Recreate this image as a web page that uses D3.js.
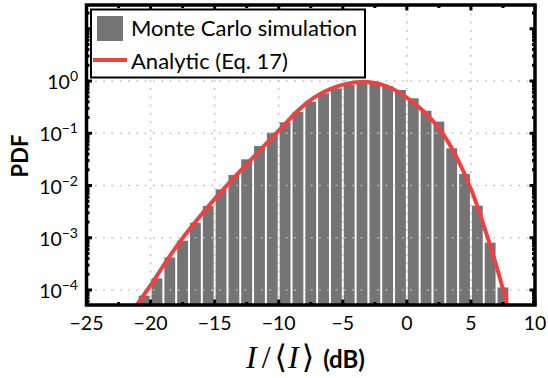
<!DOCTYPE html>
<html>
<head>
<meta charset="utf-8">
<script src="https://cdn.jsdelivr.net/npm/d3@7"></script>
<style>
	body { margin: 0; background: #fff; }
	text { font-family: Lato, 'Open Sans', sans-serif; }
</style>
</head>
<body>
<script>
// histogram bins (dB centres) and the Monte Carlo PDF values
const binCenters = [-20.5, -19.5, -18.5, -17.5, -16.5, -15.5, -14.5, -13.5, -12.5, -11.5, -10.5, -9.5, -8.5, -7.5, -6.5,
	-5.5, -4.5, -3.5, -2.5, -1.5, -0.5, 0.5, 1.5, 2.5, 3.5, 4.5, 5.5, 6.5, 7.5];
const mcPdf = [7.8e-5, 1.67e-4, 4.2e-4, 8.8e-4, 1.94e-3, 4.05e-3, 8.45e-3, 0.0159, 0.0317, 0.057, 0.1026, 0.162, 0.257, 0.402, 0.581,
	0.724, 0.838, 0.912, 0.904, 0.80, 0.676, 0.467, 0.27, 0.167, 0.0515, 0.0166, 0.00411, 8.05e-4, 1.12e-4];

// analytic curve (Eq. 17), sampled from the figure
const curveDb = [-21.15, -20.04, -18.74, -17.45, -16.14, -14.84, -13.54, -12.24, -10.94, -9.64, -8.5, -7.3, -6.0, -4.69,
	-3.13, -1.57, -0.01, 1.28, 2.59, 3.89, 5.19, 6.23, 7.27, 7.84];
const curvePdf = [4.9e-5, 1.17e-4, 3.7e-4, 1.05e-3, 2.6e-3, 6.2e-3, 0.0138, 0.030, 0.065, 0.138, 0.28, 0.49, 0.72, 0.91,
	1.01, 0.84, 0.50, 0.275, 0.126, 0.037, 0.0072, 1.17e-3, 1.74e-4, 4.9e-5];

const xTicks = [-25, -20, -15, -10, -5, 0, 5, 10];
const yTickExps = [-4, -3, -2, -1, 0];
const legendLabels = ['Monte Carlo simulation', 'Analytic (Eq. 17)'];

const [W, H] = [548, 378];
const barColor = '#747474';
const lineColor = '#ef4141';

const svg = d3.select('body').append('svg').attr('width', W).attr('height', H);

const x = d3.scaleLinear([-25, 10], [86.5, 535]);
const y = d3.scaleLog([Math.pow(10, -4.287), Math.pow(10, 1.455)], [305, 5]);
const [plotLeft, plotRight] = x.range();
const [plotBottom, plotTop] = y.range();

svg.append('defs').append('clipPath').attr('id', 'plot')
	.append('rect').attr('x', plotLeft).attr('y', plotTop).attr('width', plotRight - plotLeft).attr('height', plotBottom - plotTop);

// bars
svg.append('g')
	.selectAll('rect')
	.data(binCenters)
	.join('rect')
	.attr('x', c => x(c - 0.5) + 1)
	.attr('width', c => x(c + 0.5) - x(c - 0.5) - 2)
	.attr('y', (c, i) => y(mcPdf[i]))
	.attr('height', (c, i) => plotBottom - y(mcPdf[i]))
	.attr('fill', barColor);

// dotted grid, drawn over the bars
const grid = svg.append('g').attr('stroke', '#bdbdbd').attr('stroke-opacity', 0.85).attr('stroke-width', 1.6).attr('stroke-dasharray', '2,6.3');
grid.selectAll('.gx')
	.data(xTicks.slice(1, -1))
	.join('line')
	.attr('x1', d => x(d)).attr('x2', d => x(d))
	.attr('y1', plotTop).attr('y2', plotBottom);
grid.selectAll('.gy')
	.data(yTickExps)
	.join('line')
	.attr('y1', d => y(Math.pow(10, d))).attr('y2', d => y(Math.pow(10, d)))
	.attr('x1', plotLeft).attr('x2', plotRight);

// analytic line (basis spline smooths the hand-read samples)
const line = d3.line()
	.x(i => x(curveDb[i]))
	.y(i => y(curvePdf[i]))
	.curve(d3.curveBasis);
svg.append('path')
	.attr('clip-path', 'url(#plot)')
	.attr('fill', 'none')
	.attr('stroke', lineColor)
	.attr('stroke-width', 4)
	.attr('d', line(d3.range(curveDb.length)));

// ticks on all four sides, pointing inward
const ticks = svg.append('g').attr('stroke', '#000').attr('stroke-width', 3);
const xMinor = d3.range(-22.5, 10, 5);
const addXTicks = (vals, len) => {
	ticks.append('g').selectAll('line').data(vals).join('line')
		.attr('x1', d => x(d)).attr('x2', d => x(d)).attr('y1', plotBottom).attr('y2', plotBottom - len);
	ticks.append('g').selectAll('line').data(vals).join('line')
		.attr('x1', d => x(d)).attr('x2', d => x(d)).attr('y1', plotTop).attr('y2', plotTop + len);
};
addXTicks(xTicks, 5.5);
addXTicks(xMinor, 3);

const yMajor = [-4, -3, -2, -1, 0, 1].map(e => Math.pow(10, e));
const yMinor = [];
[-5, -4, -3, -2, -1, 0, 1].forEach(e => d3.range(2, 10).forEach(m => {
	const v = m * Math.pow(10, e);
	if (v > y.domain()[0] && v < y.domain()[1]) yMinor.push(v);
}));
const addYTicks = (vals, len) => {
	ticks.append('g').selectAll('line').data(vals).join('line')
		.attr('y1', d => y(d)).attr('y2', d => y(d)).attr('x1', plotLeft).attr('x2', plotLeft + len);
	ticks.append('g').selectAll('line').data(vals).join('line')
		.attr('y1', d => y(d)).attr('y2', d => y(d)).attr('x1', plotRight).attr('x2', plotRight - len);
};
addYTicks(yMajor, 5.5);
addYTicks(yMinor, 3);

// frame
svg.append('rect')
	.attr('x', plotLeft).attr('y', plotTop)
	.attr('width', plotRight - plotLeft).attr('height', plotBottom - plotTop)
	.attr('fill', 'none').attr('stroke', '#000').attr('stroke-width', 3.5);

// tick labels
svg.append('g')
	.selectAll('text')
	.data(xTicks)
	.join('text')
	.attr('x', d => x(d))
	.attr('y', 330)
	.attr('text-anchor', 'middle')
	.attr('font-size', 19.5)
	.text(d3.format('d'));

const yLabels = svg.append('g')
	.selectAll('text')
	.data(yTickExps)
	.join('text')
	.attr('x', 78)
	.attr('y', d => y(Math.pow(10, d)) + 8)
	.attr('text-anchor', 'end')
	.attr('font-size', 19.5);
yLabels.append('tspan').text('10');
yLabels.append('tspan').attr('font-size', 14).attr('dy', -8).text(d => d3.format('d')(d));

// axis titles
svg.append('text')
	.attr('transform', 'translate(28,156) rotate(-90)')
	.attr('text-anchor', 'middle')
	.attr('font-size', 22)
	.attr('font-weight', 'bold')
	.text('PDF');

const xTitle = svg.append('text')
	.attr('x', 246)
	.attr('y', 368)
	.attr('font-size', 32)
	.style('font-family', "'Liberation Serif', 'DejaVu Serif', serif");
xTitle.append('tspan').attr('font-style', 'italic').text('I');
xTitle.append('tspan').attr('dx', 5).text('/');
xTitle.append('tspan').attr('dx', 4).text('⟨');
xTitle.append('tspan').attr('dx', 1).attr('font-style', 'italic').text('I');
xTitle.append('tspan').attr('dx', 3).text('⟩');
xTitle.append('tspan')
	.attr('dx', 9)
	.attr('font-size', 24)
	.attr('font-weight', 'bold')
	.style('font-family', 'Lato, sans-serif')
	.text('(dB)');

// legend
const legend = svg.append('g');
legend.append('rect')
	.attr('x', 91).attr('y', 9.5).attr('width', 274).attr('height', 68)
	.attr('fill', '#fff').attr('stroke', '#000').attr('stroke-width', 2);
legend.append('rect')
	.attr('x', 97).attr('y', 16).attr('width', 26).attr('height', 25)
	.attr('fill', barColor);
legend.append('line')
	.attr('x1', 93).attr('x2', 127).attr('y1', 60).attr('y2', 60)
	.attr('stroke', lineColor).attr('stroke-width', 4);
legend.selectAll('.lbl')
	.data(legendLabels)
	.join('text')
	.attr('x', 131)
	.attr('y', (d, i) => 36 + i * 33)
	.attr('font-size', 22)
	.text(d => d);
</script>
</body>
</html>
